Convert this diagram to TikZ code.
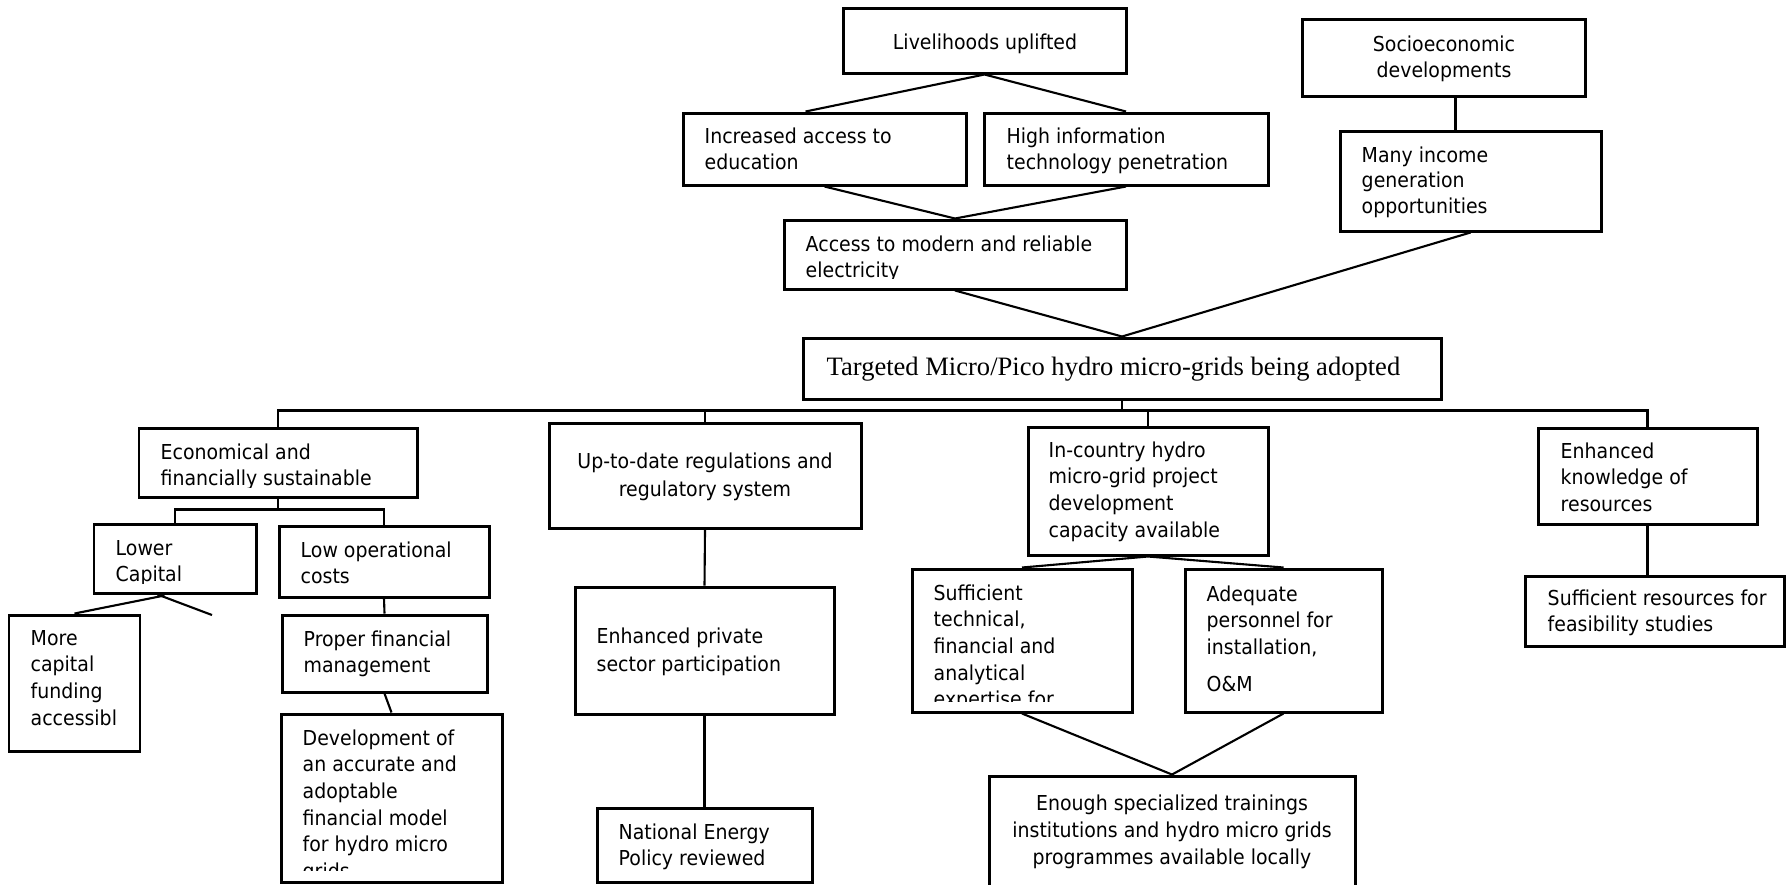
\documentclass[tikz,border=0pt]{standalone}
\usepackage{fontspec}
\setmainfont{DejaVu Sans}[FakeStretch=0.92]
\newfontfamily\tnr{Liberation Serif}
\usetikzlibrary{calc,fit}
\newcommand\lftcol[1]{\begin{tabular}[t]{@{}l@{}}#1\end{tabular}}
\newcommand\ctrcol[1]{\begin{tabular}[t]{@{}c@{}}#1\end{tabular}}
\tikzset{
  box/.style={draw, line width=0.85pt, inner sep=0pt},
  link/.style={line width=0.6pt},
  txt/.style={inner sep=0pt, anchor=base west, font=\fontsize{5.85}{7.6}\selectfont},
  ctxt/.style={inner sep=0pt, anchor=base, font=\fontsize{5.85}{7.6}\selectfont},
}
\begin{document}
\begin{tikzpicture}[x=0.01cm,y=-0.01cm]
\useasboundingbox (0,0) rectangle (1786,884);
% ---------- top part ----------
\node[box, fit={(843,8)(1126,73)}] (live) {};
\node[ctxt] (tlive) at (985,49) {Livelihoods uplifted};
\node[box, fit={(1302,19)(1585,96)}] (socio) {};
\node[ctxt] (tsocio) at (1444,51) {\ctrcol{Socioeconomic\\developments}};
\node[box, fit={(683,113)(966,185)}] (inc) {};
\node[txt] (tinc) at (704,143) {\lftcol{Increased access to\\education}};
\node[box, fit={(984,113)(1268,185)}] (hit) {};
\node[txt] (thit) at (1006,143) {\lftcol{High information\\technology penetration}};
\node[box, fit={(1340,131)(1601,231)}] (many) {};
\node[txt, font=\fontsize{5.85}{7.25}\selectfont] (tmany) at (1361,162) {\lftcol{Many income\\generation\\opportunities}};
\node[box, fit={(784,220)(1126,289)}] (acc) {};
\begin{scope}
  \clip (786,222) rectangle (1124,278);
  \node[txt] (tacc) at (805,251) {\lftcol{Access to modern and reliable\\electricity}};
\end{scope}
\node[box, fit={(803,338)(1441,399)}] (tgt) {};
\node[inner sep=0pt, anchor=base west, font=\tnr\fontsize{7.55}{9}\selectfont] (ttgt) at (826,375) {Targeted Micro/Pico hydro micro-grids being adopted};
% ---------- branch 1 ----------
\node[box, fit={(139,428)(417,497)}] (econ) {};
\begin{scope}
  \clip (141,430) rectangle (415,487);
  \node[txt] (tecon) at (160,459) {\lftcol{Economical and\\financially sustainable}};
\end{scope}
\node[box, fit={(94,524)(256,593)}] (lower) {};
\begin{scope}
  \clip (96,526) rectangle (254,583);
  \node[txt] (tlower) at (115,555) {\lftcol{Lower\\Capital}};
\end{scope}
\node[box, fit={(279,526)(489,597)}] (lowop) {};
\node[txt] (tlowop) at (300,557) {\lftcol{Low operational\\costs}};
\node[box, fit={(9,615)(140,751)}] (more) {};
\node[txt] (tmore) at (30,645) {\lftcol{More\\capital\\funding\\accessibl}};
\node[box, fit={(282,615)(487,692)}] (proper) {};
\node[txt] (tproper) at (303,646) {\lftcol{Proper financial\\management}};
\node[box, fit={(281,714)(502,882)}] (dev) {};
\begin{scope}
  \clip (283,716) rectangle (500,870);
  \node[txt] (tdev) at (302,745) {\lftcol{Development of\\an accurate and\\adoptable\\financial model\\for hydro micro\\grids}};
\end{scope}
% ---------- branch 2 ----------
\node[box, fit={(549,423)(861,528)}] (reg) {};
\node[ctxt, font=\fontsize{5.85}{8}\selectfont] (treg) at (705,468) {\ctrcol{Up-to-date regulations and\\regulatory system}};
\node[box, fit={(575,587)(834,714)}] (priv) {};
\node[txt, font=\fontsize{5.85}{8}\selectfont] (tpriv) at (596,643) {\lftcol{Enhanced private\\sector participation}};
\node[box, fit={(597,808)(812,882)}] (nat) {};
\node[txt] (tnat) at (618,839) {\lftcol{National Energy\\Policy reviewed}};
% ---------- branch 3 ----------
\node[box, fit={(1028,427)(1268,555)}] (incty) {};
\node[txt] (tincty) at (1048,457) {\lftcol{In-country hydro\\micro-grid project\\development\\capacity available}};
\node[box, fit={(912,569)(1132,712)}] (suff) {};
\begin{scope}
  \clip (914,571) rectangle (1130,701);
  \node[txt] (tsuff) at (933,600) {\lftcol{Sufficient\\technical,\\financial and\\analytical\\expertise for}};
\end{scope}
\node[box, fit={(1185,569)(1382,712)}] (adeq) {};
\node[txt] (tadeq) at (1206,601) {\lftcol{Adequate\\personnel for\\installation,\\[2.8pt]O\&M}};
\node[box, fit={(989,776)(1355,900)}] (enough) {};
\node[ctxt, font=\fontsize{5.85}{7.8}\selectfont] (tenough) at (1172,810) {\ctrcol{Enough specialized trainings\\institutions and hydro micro grids\\programmes available locally}};
% ---------- branch 4 ----------
\node[box, fit={(1538,428)(1757,524)}] (know) {};
\node[txt, font=\fontsize{5.85}{7.6}\selectfont] (tknow) at (1560,458) {\lftcol{Enhanced\\knowledge of\\resources}};
\node[box, fit={(1525,576)(1784,646)}] (res) {};
\node[txt, font=\fontsize{5.85}{7.6}\selectfont] (tres) at (1547,605) {\lftcol{Sufficient resources for\\feasibility studies}};
% ---------- connectors ----------
\draw[link] (live.south) -- ($(inc.north west)+(124,0)$);
\draw[link] (live.south) -- (hit.north);
\draw[link] (inc.south) -- (acc.north);
\draw[link] (hit.south) -- (acc.north);
\draw[link] ($(socio.south west)+(155,0)$) -- ($(many.north west)+(117,0)$);
\draw[link] (acc.south) -- (tgt.north);
\draw[link] (many.south) -- (tgt.north);
\coordinate (bus) at ($(tgt.south)+(0,10)$);
\draw[link] (tgt.south) -- (bus);
\draw[link] (econ.north) -- (econ.north |- bus) -- (know.north |- bus) -- (know.north);
\draw[link] (reg.north) -- (reg.north |- bus);
\draw[link] (incty.north) -- (incty.north |- bus);
\coordinate (ebus) at ($(econ.south)+(0,11)$);
\draw[link] (econ.south) -- (ebus);
\draw[link] (lower.north) -- (lower.north |- ebus) -- (lowop.north |- ebus) -- (lowop.north);
\coordinate (lcend) at (212,615);
\draw[link] ($(lower.south west)+(72,1)$) -- (more.north);
\draw[link] ($(lower.south west)+(65,0)$) -- (lcend);
\draw[link] (lowop.south) -- (proper.north);
\draw[link] (proper.south) -- (dev.north);
\draw[link] (reg.south) -- (priv.north);
\draw[link] (priv.south) -- (nat.north);
\draw[link] (incty.south) -- (suff.north);
\draw[link] (incty.south) -- (adeq.north);
\draw[link] (suff.south) -- (enough.north);
\draw[link] (adeq.south) -- (enough.north);
\draw[link] (know.south) -- (know.south |- res.north);
\end{tikzpicture}
\end{document}
